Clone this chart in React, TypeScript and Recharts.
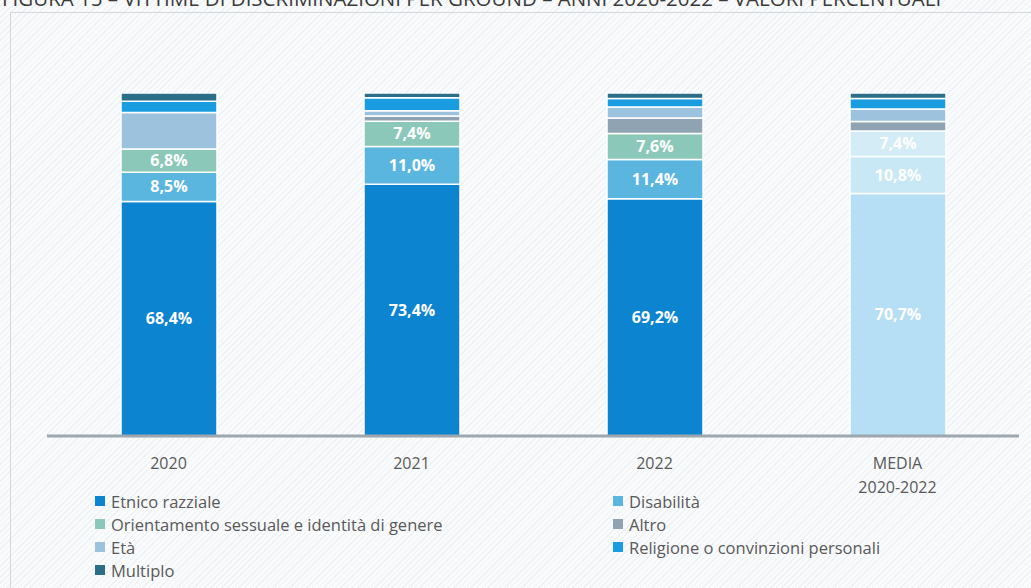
import React from 'react';
import { BarChart, Bar, XAxis, YAxis, LabelList, Cell } from 'recharts';

const categories = ['2020', '2021', '2022', 'MEDIA\n2020-2022'];
const seriesKeys = ['etnico', 'disabilita', 'orientamento', 'altro', 'eta', 'religione', 'multiplo'];
const seriesNames = [
  'Etnico razziale',
  'Disabilità',
  'Orientamento sessuale e identità di genere',
  'Altro',
  'Età',
  'Religione o convinzioni personali',
  'Multiplo',
];
const etnico = [68.4, 73.4, 69.2, 70.7];
const disabilita = [8.5, 11.0, 11.4, 10.8];
const orientamento = [6.8, 7.4, 7.6, 7.4];
const altro = [0, 1.5, 4.5, 2.8];
const eta = [10.6, 1.5, 3.2, 3.6];
const religione = [3.3, 3.8, 2.5, 3.1];
const multiplo = [2.4, 1.4, 1.6, 1.6];
const labelledSeries = ['etnico', 'disabilita', 'orientamento'];

const seriesValues = [etnico, disabilita, orientamento, altro, eta, religione, multiplo];
const colors = ['#0d84cf', '#5ab6de', '#8bc8b9', '#8fa3b2', '#9cc2dd', '#1a9ce0', '#2b6e88'];
const fadedColors = ['#b6def4', '#c9e8f6', '#d3ecf6', '#8fa3b2', '#9cc2dd', '#1a9ce0', '#2b6e88'];

const data = categories.map((c, i) => {
  const row: any = { cat: c };
  seriesKeys.forEach((k, j) => {
    row[k] = seriesValues[j][i];
  });
  return row;
});

const FONT = '"Open Sans", "DejaVu Sans", sans-serif';

const renderTick = (props: any) => {
  const { x, y, payload } = props;
  const lines = String(payload.value).split('\n');
  return (
    <text x={x} y={y} textAnchor="middle" fill="#595959" fontSize={16} fontFamily={FONT}>
      {lines.map((l, i) => (
        <tspan key={i} x={x} dy={i === 0 ? 33 : 24}>
          {l}
        </tspan>
      ))}
    </text>
  );
};

const fmt = (v: any) => (typeof v === 'number' && v > 0 ? v.toFixed(1).replace('.', ',') + '%' : '');

const legendOrder = [0, 1, 2, 3, 4, 5, 6];

export default function App() {
  return (
    <div
      style={{
        position: 'absolute',
        left: 0,
        top: 0,
        width: 1031,
        height: 588,
        overflow: 'hidden',
        background: 'repeating-linear-gradient(135deg, #eef1f4 0px, #eef1f4 1px, #fafbfc 1px, #fafbfc 4px)',
        fontFamily: FONT,
      }}
    >
      <div
        style={{
          position: 'absolute',
          left: 10,
          top: 12,
          width: 1030,
          height: 590,
          border: '1px solid #d3d8dd',
          boxSizing: 'border-box',
        }}
      />
      <div
        style={{
          position: 'absolute',
          left: 2,
          top: -12,
          fontSize: 20.5,
          lineHeight: '20px',
          color: '#3a3a3a',
          whiteSpace: 'nowrap',
          fontFamily: FONT,
        }}
      >
        FIGURA 15 – VITTIME DI DISCRIMINAZIONI PER GROUND – ANNI 2020-2022 – VALORI PERCENTUALI
      </div>
      <div style={{ position: 'absolute', left: 0, top: 0 }}>
        <BarChart
          width={1031}
          height={588}
          data={data}
          margin={{ top: 93, right: 12, bottom: 92, left: 47 }}
          barSize={96}
        >
          <XAxis
            dataKey="cat"
            interval={0}
            height={60}
            tickLine={false}
            tickSize={0}
            tickMargin={0}
            axisLine={{ stroke: '#9ea7ad', strokeWidth: 3 }}
            tick={renderTick}
          />
          <YAxis hide domain={[0, 100]} type="number" allowDataOverflow />
          {seriesKeys.map((k, j) => (
            <Bar
              key={k}
              dataKey={k}
              name={seriesNames[j]}
              stackId="a"
              fill={colors[j]}
              stroke="#ffffff"
              strokeWidth={1.5}
              isAnimationActive={false}
            >
              {data.map((_, i) => (
                <Cell key={i} fill={i === 3 ? fadedColors[j] : colors[j]} />
              ))}
              {labelledSeries.includes(k) && (
                <LabelList
                  dataKey={k}
                  position="center"
                  formatter={fmt}
                  fill="#ffffff"
                  fontSize={16}
                  fontWeight={700}
                  fontFamily={FONT}
                />
              )}
            </Bar>
          ))}
        </BarChart>
      </div>
      <div
        style={{
          position: 'absolute',
          left: 95,
          top: 490,
          display: 'grid',
          gridTemplateColumns: '518px 400px',
          rowGap: 0.5,
          fontSize: 16.5,
          color: '#595959',
          fontFamily: FONT,
        }}
      >
        {legendOrder.map((j) => (
          <div key={j} style={{ display: 'flex', alignItems: 'center', height: 22.5 }}>
            <span
              style={{
                display: 'inline-block',
                width: 10,
                height: 10,
                background: colors[j],
                marginRight: 6,
              }}
            />
            <span>{seriesNames[j]}</span>
          </div>
        ))}
      </div>
    </div>
  );
}
